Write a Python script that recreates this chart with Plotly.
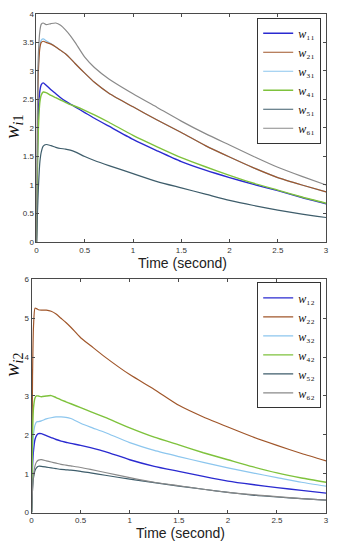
import plotly.graph_objects as go

# ---------------- data ----------------
t = [0, 0.01, 0.02, 0.035, 0.05, 0.07, 0.1, 0.15, 0.2, 0.25, 0.3, 0.35, 0.4,
     0.5, 0.6, 0.75, 1.0, 1.25, 1.5, 1.75, 2.0, 2.25, 2.5, 2.75, 3.0]

# top panel: w_i1
w11 = [0, 1.5, 2.3, 2.65, 2.76, 2.79, 2.75, 2.67, 2.6, 2.53, 2.47, 2.42, 2.37,
       2.27, 2.17, 2.03, 1.8, 1.6, 1.41, 1.26, 1.13, 1.01, 0.9, 0.78, 0.67]
w21 = [0, 2.2, 3.0, 3.4, 3.5, 3.52, 3.5, 3.47, 3.42, 3.36, 3.3, 3.22, 3.13,
       2.96, 2.8, 2.61, 2.37, 2.14, 1.92, 1.69, 1.49, 1.3, 1.13, 1.0, 0.88]
w31 = [0, 2.3, 3.1, 3.45, 3.54, 3.56, 3.53, 3.48, 3.42, 3.36, 3.3, 3.22, 3.13,
       2.96, 2.8, 2.61, 2.37, 2.14, 1.92, 1.69, 1.49, 1.3, 1.13, 1.0, 0.88]
w41 = [0, 1.3, 2.0, 2.45, 2.58, 2.63, 2.62, 2.57, 2.53, 2.49, 2.45, 2.41, 2.38,
       2.31, 2.23, 2.1, 1.87, 1.67, 1.48, 1.32, 1.17, 1.03, 0.91, 0.79, 0.68]
w51 = [0, 0.5, 0.95, 1.4, 1.58, 1.68, 1.71, 1.69, 1.66, 1.64, 1.63, 1.61, 1.58,
       1.5, 1.43, 1.34, 1.2, 1.06, 0.95, 0.84, 0.73, 0.64, 0.56, 0.49, 0.43]
w61 = [0, 2.5, 3.3, 3.7, 3.82, 3.84, 3.81, 3.83, 3.84, 3.8, 3.72, 3.62, 3.5,
       3.24, 3.06, 2.86, 2.6, 2.36, 2.12, 1.9, 1.7, 1.5, 1.31, 1.15, 1.0]

# bottom panel: w_i2
w12 = [0, 1.2, 1.6, 1.88, 1.98, 2.03, 2.03, 1.98, 1.93, 1.88, 1.84, 1.81, 1.78,
       1.73, 1.67, 1.57, 1.36, 1.19, 1.06, 0.93, 0.81, 0.72, 0.64, 0.57, 0.5]
w22 = [0, 3.5, 4.8, 5.26, 5.25, 5.22, 5.21, 5.21, 5.18, 5.11, 5.0, 4.89, 4.77,
       4.5, 4.3, 4.0, 3.55, 3.17, 2.76, 2.46, 2.2, 1.95, 1.73, 1.52, 1.33]
w32 = [0, 1.5, 2.0, 2.25, 2.33, 2.34, 2.36, 2.41, 2.44, 2.46, 2.46, 2.45, 2.42,
       2.3, 2.2, 2.06, 1.8, 1.6, 1.44, 1.29, 1.15, 1.02, 0.9, 0.78, 0.68]
w42 = [0, 2.0, 2.7, 2.95, 3.0, 3.0, 2.98, 3.0, 3.01, 2.96, 2.9, 2.85, 2.8,
       2.7, 2.6, 2.45, 2.18, 1.94, 1.74, 1.54, 1.36, 1.18, 1.02, 0.89, 0.78]
w52 = [0, 0.6, 0.9, 1.08, 1.15, 1.19, 1.19, 1.17, 1.15, 1.13, 1.11, 1.1, 1.09,
       1.06, 1.02, 0.96, 0.86, 0.77, 0.68, 0.6, 0.52, 0.45, 0.4, 0.36, 0.32]
w62 = [0, 0.6, 0.95, 1.2, 1.3, 1.35, 1.36, 1.33, 1.3, 1.27, 1.24, 1.22, 1.2,
       1.16, 1.11, 1.03, 0.9, 0.78, 0.69, 0.6, 0.52, 0.46, 0.41, 0.36, 0.32]

top_names = ["<i>w</i>₁₁", "<i>w</i>₂₁", "<i>w</i>₃₁",
             "<i>w</i>₄₁", "<i>w</i>₅₁", "<i>w</i>₆₁"]
bot_names = ["<i>w</i>₁₂", "<i>w</i>₂₂", "<i>w</i>₃₂",
             "<i>w</i>₄₂", "<i>w</i>₅₂", "<i>w</i>₆₂"]
colors = ["#2a2ad0", "#a0562a", "#8cc6ee", "#7ec23c", "#3e5d6b", "#8a8a8a"]
widths = [1.4, 1.2, 1.2, 1.4, 1.2, 1.2]
# drawing order (legend order kept via legendrank)
top_draw_order = [2, 0, 1, 3, 4, 5]
bot_draw_order = [0, 1, 2, 3, 4, 5]

x_ticks = [0, 0.5, 1, 1.5, 2, 2.5, 3]
x_ticklabels = ["0", "0.5", "1", "1.5", "2", "2.5", "3"]
y1_ticks = [0, 0.5, 1, 1.5, 2, 2.5, 3, 3.5, 4]
y1_ticklabels = ["0", "0.5", "1", "1.5", "2", "2.5", "3", "3.5", "4"]
y2_ticks = [0, 1, 2, 3, 4, 5, 6]
y2_ticklabels = ["0", "1", "2", "3", "4", "5", "6"]

W, H = 337, 550
fig = go.Figure()

top_series = [w11, w21, w31, w41, w51, w61]
bot_series = [w12, w22, w32, w42, w52, w62]
for i in top_draw_order:
    fig.add_trace(go.Scatter(x=t, y=top_series[i], name=top_names[i], mode="lines",
                             line=dict(color=colors[i], width=widths[i], shape="spline", smoothing=0.6),
                             xaxis="x", yaxis="y", legend="legend", legendrank=i + 1))
for i in bot_draw_order:
    fig.add_trace(go.Scatter(x=t, y=bot_series[i], name=bot_names[i], mode="lines",
                             line=dict(color=colors[i], width=widths[i], shape="spline", smoothing=0.6),
                             xaxis="x2", yaxis="y2", legend="legend2", legendrank=i + 1))

axcommon = dict(showline=True, linecolor="#4a4a4a", linewidth=1, mirror="ticks",
                ticks="inside", ticklen=3, tickcolor="#4a4a4a", showgrid=False,
                zeroline=False, tickfont=dict(family="Liberation Sans", size=8, color="#333"))

def px(v):
    return v / W

def py(v):
    return 1 - v / H

legend_common = dict(xanchor="right", yanchor="top", bgcolor="white",
                     bordercolor="#333", borderwidth=1,
                     font=dict(family="Liberation Serif", size=12, color="#111"),
                     itemwidth=30, tracegroupgap=0, traceorder="normal")

fig.update_layout(
    width=W, height=H, autosize=False,
    margin=dict(l=0, r=0, t=0, b=0),
    paper_bgcolor="white", plot_bgcolor="white",
    xaxis=dict(domain=[px(35), px(329)], anchor="y", range=[0, 3.0005],
               tickvals=x_ticks, ticktext=x_ticklabels, **axcommon),
    yaxis=dict(domain=[py(242), py(10)], anchor="x", range=[0, 4.0005],
               tickvals=y1_ticks, ticktext=y1_ticklabels, **axcommon),
    xaxis2=dict(domain=[px(30), px(329)], anchor="y2", range=[0, 3.0005],
                tickvals=x_ticks, ticktext=x_ticklabels, **axcommon),
    yaxis2=dict(domain=[py(517), py(280)], anchor="x2", range=[0, 6.0005],
                tickvals=y2_ticks, ticktext=y2_ticklabels, **axcommon),
    legend=dict(x=px(324), y=py(14), **legend_common),
    legend2=dict(x=px(324), y=py(283), **legend_common),
    showlegend=True,
)

ann_font = dict(family="Liberation Serif", size=20, color="#111")
xt_font = dict(family="Liberation Sans", size=14, color="#222")
fig.add_annotation(text="<i>w</i><sub><i>i</i>1</sub>", x=px(12), y=py(125),
                   xref="paper", yref="paper", showarrow=False, textangle=-90,
                   font=ann_font, xanchor="center", yanchor="middle")
fig.add_annotation(text="<i>w</i><sub><i>i</i>2</sub>", x=px(12), y=py(367),
                   xref="paper", yref="paper", showarrow=False, textangle=-90,
                   font=ann_font, xanchor="center", yanchor="middle")
fig.add_annotation(text="Time (second)", x=px(183), y=py(263),
                   xref="paper", yref="paper", showarrow=False,
                   font=xt_font, xanchor="center", yanchor="middle")
fig.add_annotation(text="Time (second)", x=px(181), y=py(538),
                   xref="paper", yref="paper", showarrow=False,
                   font=xt_font, xanchor="center", yanchor="middle")

fig.write_html("out.html", config={"displayModeBar": False},
               post_script="document.body.style.margin='0px';document.body.style.overflow='hidden';")
